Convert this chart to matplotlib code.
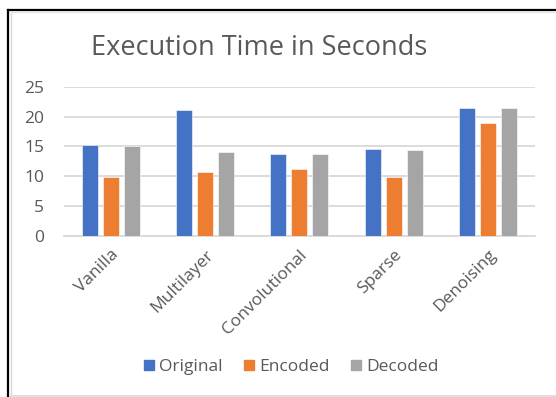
import matplotlib
matplotlib.use("Agg")
import matplotlib.pyplot as plt
import numpy as np
from matplotlib.lines import Line2D

categories = ["Vanilla", "Multilayer", "Convolutional", "Sparse", "Denoising"]
original = [15.2, 21.1, 13.7, 14.6, 21.5]
encoded = [9.9, 10.7, 11.2, 9.9, 18.9]
decoded = [15.0, 14.1, 13.7, 14.4, 21.5]
series_names = ["Original", "Encoded", "Decoded"]
colors = ["#4472C4", "#ED7D31", "#A5A5A5"]
yticks = [0, 5, 10, 15, 20, 25]

plt.rcParams["font.family"] = ["Open Sans", "DejaVu Sans"]
text_color = "#595959"

W, H = 556, 397
fig = plt.figure(figsize=(W / 100, H / 100), dpi=100)

# frame: dark left and top edges, light inner border and bottom edge
fig.add_artist(Line2D([8 / W, 8 / W], [0, 1 - 10 / H], color="black", linewidth=1.6))
fig.add_artist(Line2D([8 / W, 1], [1 - 10 / H, 1 - 10 / H], color="black", linewidth=1.6))
fig.add_artist(Line2D([10.5 / W, 10.5 / W], [1 - 395 / H, 1 - 12 / H], color="#D9D9D9", linewidth=1.0))
fig.add_artist(Line2D([10 / W, 1], [1 - 12 / H, 1 - 12 / H], color="#E6E6E6", linewidth=1.0))
fig.add_artist(Line2D([10 / W, 1], [1 - 395.5 / H, 1 - 395.5 / H], color="#D9D9D9", linewidth=1.2))

left, right = 63.7, 535
bottom, top = 235.7, 87
ax = fig.add_axes([left / W, 1 - bottom / H, (right - left) / W, (bottom - top) / H])

x = np.arange(len(categories))
offset = 0.223
width = 0.17
for i, (vals, name, c) in enumerate(zip([original, encoded, decoded], series_names, colors)):
    ax.bar(x + (i - 1) * offset, vals, width=width, color=c, edgecolor="white",
           linewidth=0.4, label=name, zorder=3)

ax.set_xlim(-0.5, len(categories) - 0.5)
ax.set_ylim(0, 25)
ax.set_yticks(yticks)
ax.grid(axis="y", color="#D9D9D9", linewidth=1.3, zorder=0)
for s in ["top", "right", "left"]:
    ax.spines[s].set_visible(False)
ax.spines["bottom"].set_color("#D9D9D9")
ax.spines["bottom"].set_linewidth(1.3)
ax.tick_params(axis="both", length=0, colors=text_color, labelsize=12.5)
ax.tick_params(axis="y", pad=14)
ax.set_xticks(x)
ax.set_xticklabels(categories, rotation=45, ha="right", rotation_mode="anchor")
ax.tick_params(axis="x", pad=8)

fig.text(259 / W, 1 - 48 / H, "Execution Time in Seconds", ha="center", va="center",
         fontsize=19.5, color=text_color)

handles = [Line2D([], [], marker="s", linestyle="", markersize=7, color=c) for c in colors]
fig.legend(handles, series_names, loc="center", bbox_to_anchor=(289.5 / W, 1 - 367 / H),
           ncol=3, frameon=False, fontsize=12.5, labelcolor=text_color,
           handletextpad=0.1, columnspacing=1.0, handlelength=1.0)

fig.savefig("out.png", dpi=100)
